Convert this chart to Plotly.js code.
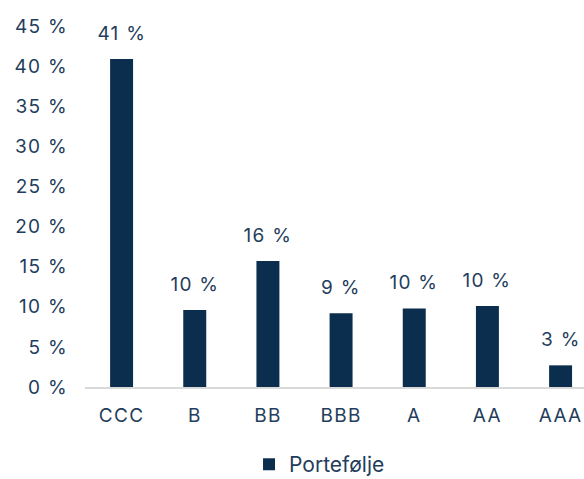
<!DOCTYPE html>
<html><head><meta charset="utf-8">
<script src="https://cdn.plot.ly/plotly-3.0.1.min.js"></script>
<style>body{margin:0;background:#fff}#c{width:584px;height:479px}
#c svg .xtick text, #c svg .ytick text, #c svg .annotation text{letter-spacing:1.3px}</style>
</head><body><div id="c"></div>
<script>
const categories = ["CCC","B","BB","BBB","A","AA","AAA"];
const portfolio = [40.9, 9.6, 15.7, 9.2, 9.8, 10.1, 2.7];
const seriesName = "Portefølje";
const textColor = "#1f3d5c";
const barColor = "#0b2e4f";
const fontFam = "Inter, sans-serif";
const annotations = categories.map((c, i) => ({
  x: c, y: portfolio[i], xref: "x", yref: "y",
  text: Math.round(portfolio[i]) + " %", showarrow: false,
  yanchor: "bottom", yshift: 12,
  font: {family: fontFam, size: 19, color: textColor}
}));
Plotly.newPlot("c", [{
  type: "bar", x: categories, y: portfolio, name: seriesName,
  marker: {color: barColor},
  hoverinfo: "skip", showlegend: true
}], {
  width: 584, height: 479,
  margin: {l: 85, r: 0, t: 26, b: 92, autoexpand: false},
  paper_bgcolor: "#fff", plot_bgcolor: "#fff",
  font: {family: fontFam, size: 19, color: textColor},
  bargap: 0.686,
  annotations: annotations,
  xaxis: {range: [-0.5, 6.32], showgrid: false, zeroline: false, showline: true,
    linecolor: "#d9d9d9", linewidth: 2, ticks: "", fixedrange: true,
    ticklabelstandoff: 10,
    tickfont: {size: 19, color: textColor}},
  yaxis: {range: [0, 45], dtick: 5, tick0: 0, showgrid: false, zeroline: false,
    showline: false, ticksuffix: " %", ticks: "", ticklabelstandoff: 16,
    tickfont: {size: 19, color: textColor}},
  legend: {orientation: "h", x: 0.47, xanchor: "center", y: -0.215, yanchor: "middle",
    font: {size: 21, color: textColor}},
  showlegend: true
}, {staticPlot: true});
</script></body></html>
